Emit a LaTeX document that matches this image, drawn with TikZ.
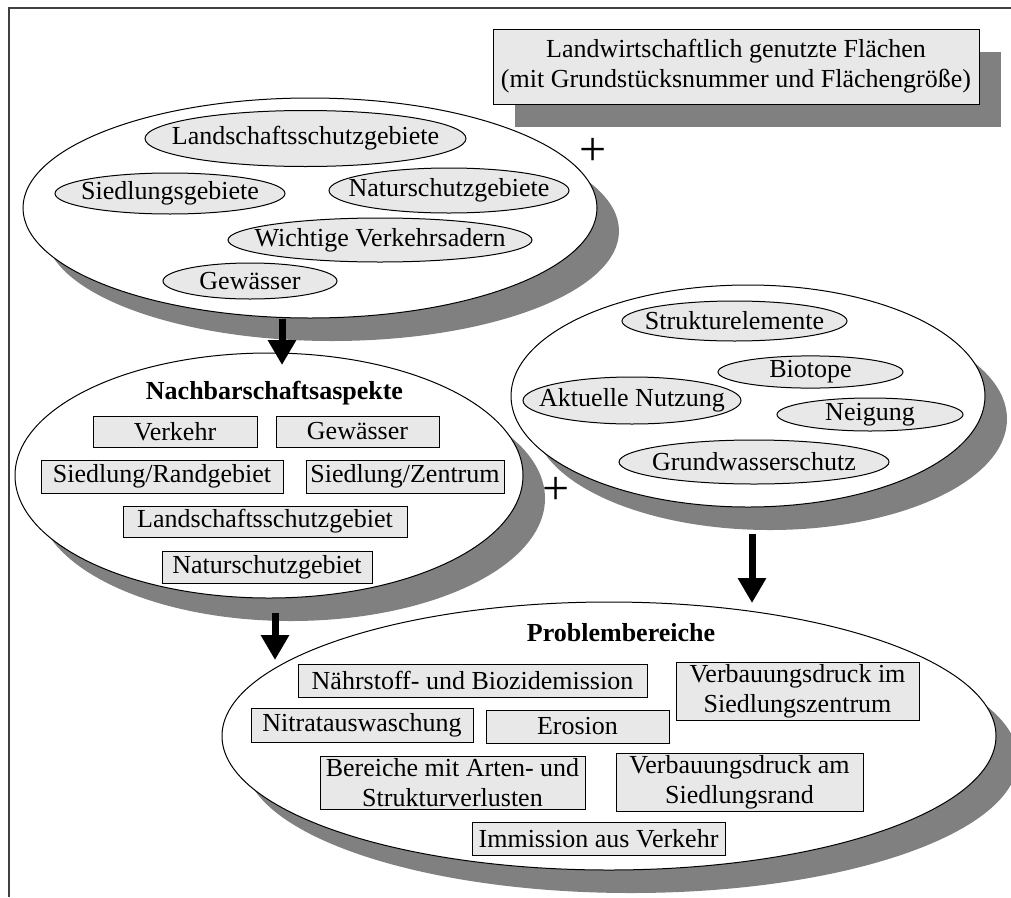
\documentclass[tikz,border=0pt]{standalone}
\usepackage{fontspec}
\setmainfont{Liberation Serif}
\usepackage{tikz}
\usetikzlibrary{positioning}
\usetikzlibrary{shapes.geometric}
\usetikzlibrary{shadows}
\usetikzlibrary{arrows.meta}
\definecolor{fillgray}{gray}{0.91}
\definecolor{shadowgray}{gray}{0.5}
\newcommand{\zw}[1]{\makebox[0pt]{#1}}

\begin{document}
\begin{tikzpicture}[x=1pt,y=-1pt,
        font=\fontsize{26}{30}\selectfont,
        shadowed/.style={drop shadow={shadow xshift=22pt,shadow yshift=-23pt,fill=shadowgray,opacity=1}},
        big/.style={ellipse,draw,line width=1pt,fill=white,inner sep=0pt,shadowed},
        oval/.style={ellipse,draw,line width=1pt,fill=fillgray,inner sep=0pt},
        item/.style={rectangle,draw,line width=1pt,fill=fillgray,inner sep=2pt,align=center},
        title/.style={font=\fontsize{26}{30}\selectfont\bfseries},
        plus/.style={font=\fontsize{48}{48}\selectfont,inner sep=0pt},
        bigarrow/.style={line width=7pt,-{Triangle[width=27pt,length=25pt]}}]
        \useasboundingbox (0,0) rectangle (1011,897);
        \draw[line width=2pt,black!75] (9,897) -- (9,7.5) -- (1011,7.5);

        \node[item,shadowed,minimum width=486pt,minimum height=75pt] (flaechen) at (736,66.5)
          {Landwirtschaftlich genutzte Flächen\\(mit Grundstücksnummer und Flächengröße)};

        \node[big,minimum width=574pt,minimum height=220pt] (gebiete) at (310,208) {};
        \node[oval,minimum width=321pt,minimum height=56pt] (lsg) at (305.5,138.5) {\zw{Landschaftsschutzgebiete}};
        \node[oval,minimum width=230pt,minimum height=41pt] (sdg) at (170,193.5) {\zw{Siedlungsgebiete}};
        \node[oval,minimum width=240pt,minimum height=45pt] (nsg) at (449,190.5) {\zw{Naturschutzgebiete}};
        \node[oval,minimum width=304pt,minimum height=44pt] (wva) at (380,240) {\zw{Wichtige Verkehrsadern}};
        \node[oval,minimum width=174pt,minimum height=36pt] (gew) at (250,281) {\zw{Gewässer}};
        \node[plus] (plus1) at (593,152) {+};

        \node[big,minimum width=474pt,minimum height=222pt] (standort) at (748,396) {};
        \node[oval,minimum width=225pt,minimum height=40pt] (str) at (734.5,321) {\zw{Strukturelemente}};
        \node[oval,minimum width=185pt,minimum height=32pt] (bio) at (810.5,372) {\zw{Biotope}};
        \node[oval,minimum width=218pt,minimum height=47pt] (akt) at (632,400.5) {\zw{Aktuelle Nutzung}};
        \node[oval,minimum width=186pt,minimum height=33pt] (nei) at (870,414.5) {\zw{Neigung}};
        \node[oval,minimum width=270pt,minimum height=44pt] (gws) at (754,462) {\zw{Grundwasserschutz}};
        \node[plus] (plus2) at (556,491) {+};

        \node[big,minimum width=508pt,minimum height=245pt] (nachbar) at (269,475.5) {};
        \node[title] (nbtitel) at (274.5,393) {Nachbarschaftsaspekte};
        \node[item,minimum width=164pt,minimum height=31pt] (vk) at (175,431.5) {Verkehr};
        \node[item,minimum width=163pt,minimum height=31pt] (gw) at (357.5,431.5) {Gewässer};
        \node[item,minimum width=242pt,minimum height=33pt] (srg) at (162,476.5) {Siedlung/Randgebiet};
        \node[item,minimum width=198pt,minimum height=33pt] (szt) at (405,476.5) {Siedlung/Zentrum};
        \node[item,minimum width=284pt,minimum height=31pt] (lsgb) at (265,521.5) {Landschaftsschutzgebiet};
        \node[item,minimum width=210pt,minimum height=32pt] (nsgb) at (267,567) {Naturschutzgebiet};

        \node[big,minimum width=774pt,minimum height=268pt] (problem) at (609,736) {};
        \node[title] (pbtitel) at (621,633) {Problembereiche};
        \node[item,minimum width=349pt,minimum height=33pt] (nbe) at (472.5,680.5) {Nährstoff- und Biozidemission};
        \node[item,minimum width=243pt,minimum height=55pt] (vsz) at (797.5,691.5) {Verbauungsdruck im\\Siedlungszentrum};
        \node[item,minimum width=222pt,minimum height=34pt] (nit) at (362,725) {Nitratauswaschung};
        \node[item,minimum width=183pt,minimum height=33pt] (ero) at (577.5,726.5) {Erosion};
        \node[item,minimum width=265pt,minimum height=53pt] (bav) at (452.5,782.5) {Bereiche mit Arten- und\\Strukturverlusten};
        \node[item,minimum width=247pt,minimum height=53pt] (vsr) at (739.5,782.5) {Verbauungsdruck am\\Siedlungsrand};
        \node[item,minimum width=253pt,minimum height=33pt] (imv) at (598.5,838.5) {Immission aus Verkehr};

        \coordinate (p1) at (282,365);
        \coordinate (p2) at (275,660);
        \coordinate (p3) at (752,603);
        \draw[bigarrow] (gebiete.south -| p1) -- (p1);
        \draw[bigarrow,shorten <=14pt] (nachbar.south -| p2) -- (p2);
        \draw[bigarrow,shorten <=26pt] (standort.south -| p3) -- (p3);
      \end{tikzpicture}
\end{document}
